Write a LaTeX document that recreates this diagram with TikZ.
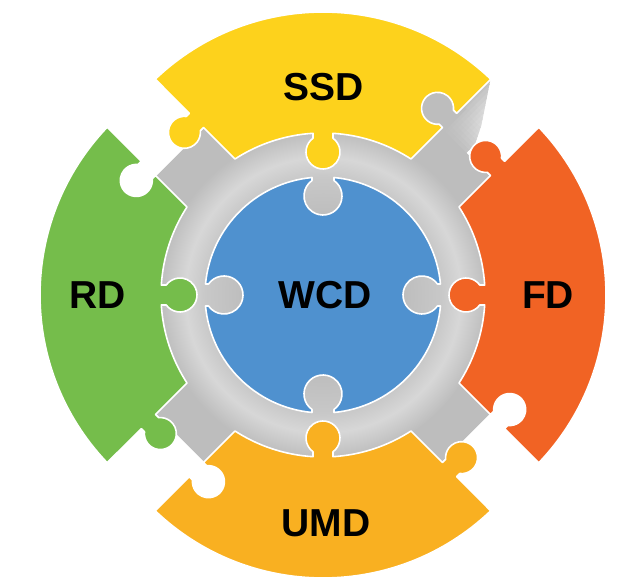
\documentclass[tikz,border=0pt]{standalone}
\usepackage{fontspec}
\setmainfont{Liberation Sans}
\usetikzlibrary{calc}

\definecolor{ssdyellow}{HTML}{FDD21C}
\definecolor{fdorange}{HTML}{F16324}
\definecolor{umdgold}{HTML}{F9B021}
\definecolor{rdgreen}{HTML}{75BD4B}
\definecolor{wcdblue}{HTML}{4F91CF}
\definecolor{ringgray}{HTML}{BDBDBD}
\definecolor{ringmid}{HTML}{C8C8C8}
\definecolor{ringlight}{HTML}{D7D7D7}

% metallic ring: darker at the sockets and the rim, a light band in between
\pgfdeclareradialshading{ringshade}{\pgfpoint{0bp}{0bp}}{%
  color(0bp)=(ringgray); color(12bp)=(ringgray); color(18bp)=(ringmid);
  color(21bp)=(ringlight); color(25bp)=(ringgray); color(50bp)=(ringgray)}

% geometry, 1 unit = 1pt, centre of the puzzle at the origin
\def\pzBw{34}     % half width of the diagonal gaps
\def\pzRi{162}    % inner radius of the outer pieces
\def\pzRa{243}    % radius of each rim arc
\def\pzTB{271.22} % distance along a gap edge to the rim corner
\def\pzPhO{43.65} % half opening of a rim arc (seen from its own centre)
\def\pzTk{213}    % position of the side tabs along a gap
\def\pzDk{17}     % depth of the side tabs
\def\pzHk{16}     % head radius of the side tabs
\def\pzWk{10}     % neck half width of the side tabs
\def\pzRc{143}    % centre radius of the inward tabs
\def\pzHi{17}
\def\pzWi{10}
\def\pzRb{118}    % radius of the centre piece
\def\pzRcb{99}
\def\pzHb{19}
\def\pzWb{11}
\pgfmathsetmacro\pzTA{\pzRi*sqrt(1-(\pzBw/\pzRi)^2)}
\pgfmathsetmacro\pzThI{45-atan(\pzBw/\pzTA)}
\pgfmathsetmacro\pzSk{sqrt(\pzHk*\pzHk-\pzWk*\pzWk)}
\pgfmathsetmacro\pzAk{asin(\pzWk/\pzHk)}
\pgfmathsetmacro\pzSi{sqrt(\pzHi*\pzHi-\pzWi*\pzWi)}
\pgfmathsetmacro\pzAi{asin(\pzWi/\pzHi)}
\pgfmathsetmacro\pzBi{asin(\pzWi/\pzRi)}
\pgfmathsetmacro\pzSb{sqrt(\pzHb*\pzHb-\pzWb*\pzWb)}
\pgfmathsetmacro\pzAb{asin(\pzWb/\pzHb)}
\pgfmathsetmacro\pzBb{asin(\pzWb/\pzRb)}

% outline of one outer piece, axis along +x:
% socket on the clockwise edge, tab on the counter-clockwise edge, tab pointing inwards
\newcommand\pzPiece{%
  ($(-45:\pzTA)+(45:\pzBw)$)
  -- ($(-45:\pzTk-\pzWk)+(45:\pzBw)$)
  -- ($(-45:\pzTk-\pzWk)+(45:\pzBw+\pzDk-\pzSk)$)
  arc[start angle=225-\pzAk, end angle=-135+\pzAk, radius=\pzHk]
  -- ($(-45:\pzTk+\pzWk)+(45:\pzBw)$)
  -- ($(-45:\pzTB)+(45:\pzBw)$)
  arc[start angle=-\pzPhO, end angle=\pzPhO, radius=\pzRa]
  -- ($(45:\pzTk+\pzWk)+(-45:\pzBw)$)
  -- ($(45:\pzTk+\pzWk)+(-45:\pzBw-\pzDk+\pzSk)$)
  arc[start angle=-45+\pzAk, end angle=315-\pzAk, radius=\pzHk]
  -- ($(45:\pzTk-\pzWk)+(-45:\pzBw)$)
  -- ($(45:\pzTA)+(-45:\pzBw)$)
  arc[start angle=\pzThI, end angle=\pzBi, radius=\pzRi]
  -- (\pzRc+\pzSi,\pzWi)
  arc[start angle=\pzAi, end angle=360-\pzAi, radius=\pzHi]
  -- (-\pzBi:\pzRi)
  arc[start angle=-\pzBi, end angle=-\pzThI, radius=\pzRi]
  -- cycle}

\tikzset{
  piece/.style={draw=white, line width=1.6pt, line join=round},
  metal/.style={fill=ringgray},
  lbl/.style={font=\bfseries\fontsize{39}{44}\selectfont, text=black, inner sep=0pt}
}

\begin{document}
\begin{tikzpicture}[x=1pt,y=1pt]
\useasboundingbox (-323,-285) rectangle (312,295);

% grey ring: teeth in the four gaps
\foreach \k in {45,135,225,315}{
  \fill[metal, rotate=\k] (100,-40) rectangle (202,40);
}
% grey arm running out along the upper right gap, fading out towards its free side
\begin{scope}[rotate=45]
  \begin{scope}
    \clip (150,-1) -- (214,-1) -- (232,8) -- (270,33.5) -- (262,40) -- (150,40) -- cycle;
    \foreach \i in {0,...,31}{
      \foreach \j in {0,...,10}{
        \pgfmathsetmacro\pzA{150+\i*4}
        \pgfmathsetmacro\pzL{\j*4-1}
        \pgfmathtruncatemacro\pzPc{100-78*min(1,max(0,(\pzA-198)/45))*max(0,1-(\pzL+2)/36)}
        \fill[ringgray!\pzPc!white] (\pzA,\pzL) rectangle (\pzA+4.6,\pzL+4.6);
      }
    }
  \end{scope}
  % tab of the arm, seated in the socket of the yellow piece
  \fill[metal] (193,30) rectangle (233,72);
\end{scope}
% grey ring body
\shade[shading=ringshade] (0,0) circle (164);

% outer pieces
\begin{scope}[rotate=0]
  \filldraw[piece, fill=fdorange] \pzPiece;
\end{scope}
\begin{scope}[rotate=90]
  \filldraw[piece, fill=ssdyellow] \pzPiece;
\end{scope}
\begin{scope}[rotate=180]
  \filldraw[piece, fill=rdgreen] \pzPiece;
\end{scope}
\begin{scope}[rotate=270]
  \filldraw[piece, fill=umdgold] \pzPiece;
\end{scope}

% centre piece with four sockets
\filldraw[piece, fill=wcdblue] (\pzBb:\pzRb)
  \foreach \k in {0,90,180,270}{
    arc[start angle=\k+\pzBb, end angle=\k+90-\pzBb, radius=\pzRb]
    -- ($(\k+90:\pzRcb+\pzSb)+(\k:\pzWb)$)
    arc[start angle=\k+90-\pzAb, end angle=\k-270+\pzAb, radius=\pzHb]
    -- (\k+90+\pzBb:\pzRb)
  } -- cycle;

% labels
\node[lbl] (ssd) at (1,208) {SSD};
\node[lbl] (fd)  at (225,0) {FD};
\node[lbl] (umd) at (3,-228) {UMD};
\node[lbl] (rd)  at (-225,0) {RD};
\node[lbl] (wcd) at (2,0) {WCD};
\end{tikzpicture}
\end{document}
